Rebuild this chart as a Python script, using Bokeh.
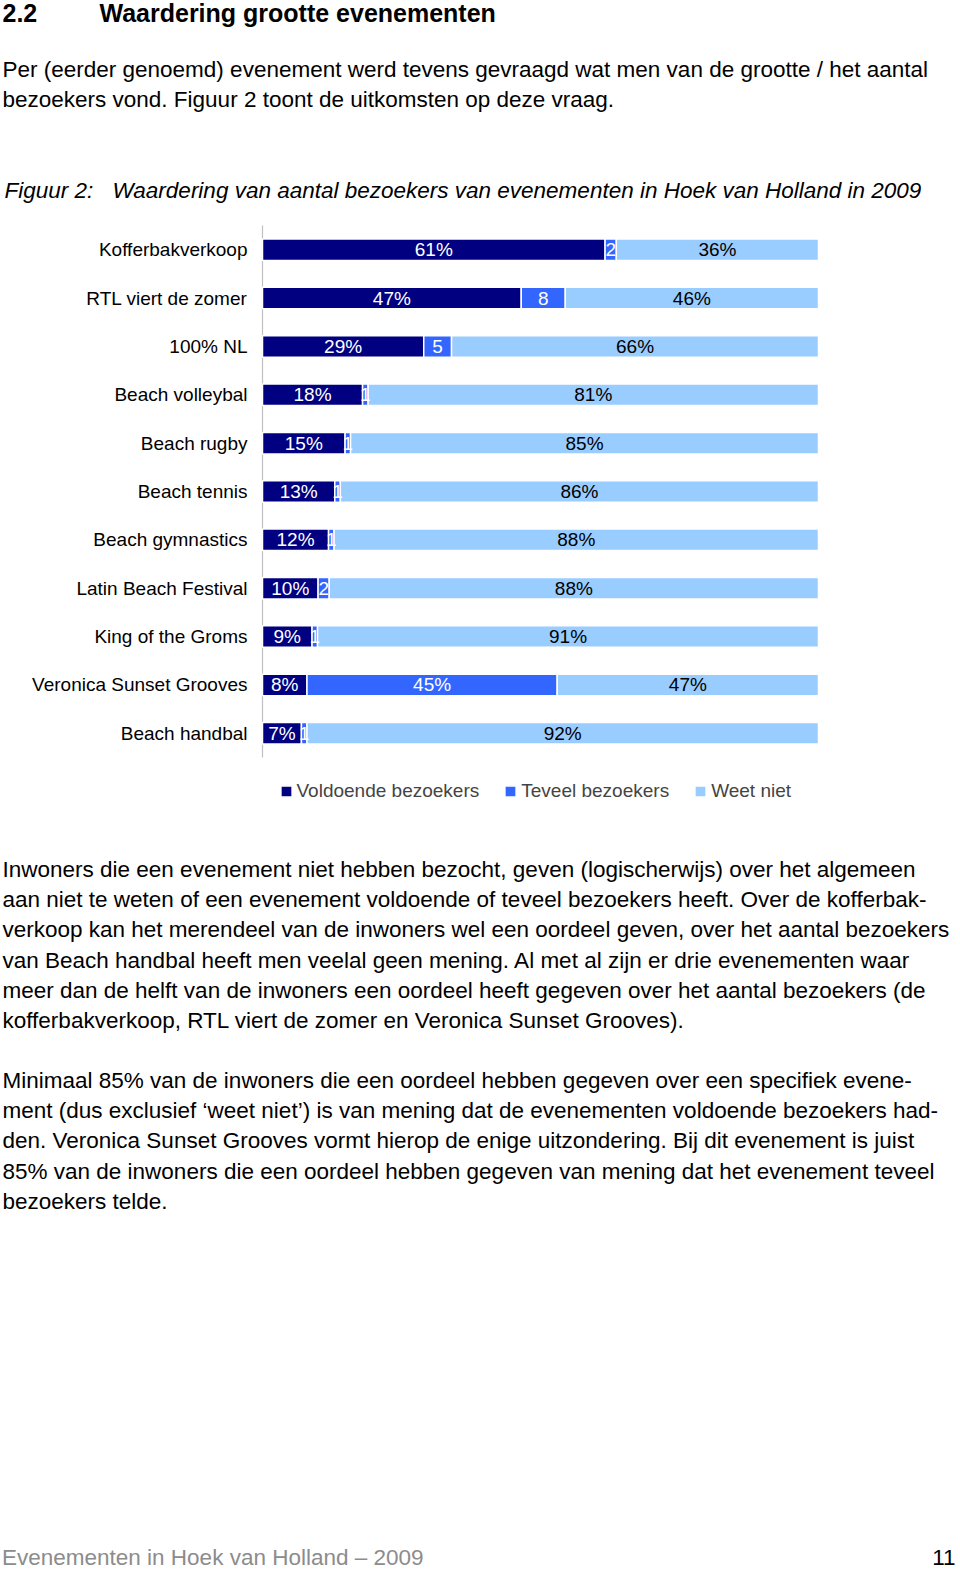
from bokeh.plotting import figure
from bokeh.models import ColumnDataSource, Label, Legend, LegendItem, Range1d
from bokeh.embed import file_html
from bokeh.resources import INLINE
from bokeh.core.properties import value

# ---------------- data ----------------
categories = ["Kofferbakverkoop", "RTL viert de zomer", "100% NL", "Beach volleybal",
              "Beach rugby", "Beach tennis", "Beach gymnastics", "Latin Beach Festival",
              "King of the Groms", "Veronica Sunset Grooves", "Beach handbal"]
voldoende = [61, 47, 29, 18, 15, 13, 12, 10, 9, 8, 7]
teveel = [2, 8, 5, 1, 1, 1, 1, 2, 1, 45, 1]
weet_niet = [36, 46, 66, 81, 85, 86, 88, 88, 91, 47, 92]
teveel_labels = ["2", "8", "5", "1", "1", "1", "1", "2", "1", "45%", "1"]
series = ["Voldoende bezoekers", "Teveel bezoekers", "Weet niet"]
colors = ["#000080", "#3366FF", "#99CCFF"]

heading_num = "2.2"
heading_text = "Waardering grootte evenementen"
para1 = ["Per (eerder genoemd) evenement werd tevens gevraagd wat men van de grootte / het aantal",
         "bezoekers vond. Figuur 2 toont de uitkomsten op deze vraag."]
caption_num = "Figuur 2:"
caption_text = "Waardering van aantal bezoekers van evenementen in Hoek van Holland in 2009"
para2 = ["Inwoners die een evenement niet hebben bezocht, geven (logischerwijs) over het algemeen",
         "aan niet te weten of een evenement voldoende of teveel bezoekers heeft. Over de kofferbak-",
         "verkoop kan het merendeel van de inwoners wel een oordeel geven, over het aantal bezoekers",
         "van Beach handbal heeft men veelal geen mening. Al met al zijn er drie evenementen waar",
         "meer dan de helft van de inwoners een oordeel heeft gegeven over het aantal bezoekers (de",
         "kofferbakverkoop, RTL viert de zomer en Veronica Sunset Grooves)."]
para3 = ["Minimaal 85% van de inwoners die een oordeel hebben gegeven over een specifiek evene-",
         "ment (dus exclusief \u2018weet niet\u2019) is van mening dat de evenementen voldoende bezoekers had-",
         "den. Veronica Sunset Grooves vormt hierop de enige uitzondering. Bij dit evenement is juist",
         "85% van de inwoners die een oordeel hebben gegeven van mening dat het evenement teveel",
         "bezoekers telde."]
footer_text = "Evenementen in Hoek van Holland \u2013 2009"
page_number = "11"

FONT = "Liberation Sans"
W, H = 960, 1570

# chart area inside the page figure (pixels from the figure's top-left)
CH_LEFT, CH_RIGHT = 262, 818
CH_TOP, CH_BOTTOM = 225, 757

px_per_pct = (CH_RIGHT - CH_LEFT) / 100.0
pct_start = -CH_LEFT / px_per_pct
pct_end = pct_start + W / px_per_pct

n = len(categories)
px_per_cat = (CH_BOTTOM - CH_TOP) / n
cat_top = -0.5 - CH_TOP / px_per_cat
cat_bottom = cat_top + H / px_per_cat

p = figure(width=W, height=H, x_range=Range1d(0, W), y_range=Range1d(0, H),
           output_backend="svg", toolbar_location=None,
           x_axis_location=None, y_axis_location=None, min_border=0)
p.outline_line_color = None
p.xgrid.visible = False
p.ygrid.visible = False
p.extra_x_ranges = {"pct": Range1d(pct_start, pct_end)}
p.extra_y_ranges = {"cat": Range1d(cat_bottom, cat_top)}


def add_label(page_x, page_y, text, size="22.5px", style="normal",
              color="#000000", align="left"):
    p.add_layout(Label(x=page_x, y=H - page_y, x_units="screen", y_units="screen",
                       text=text, text_font=FONT, text_font_size=size,
                       text_font_style=style, text_color=color,
                       text_baseline="middle", text_align=align))


# ---------------- page text ----------------
add_label(2, 12, heading_num, size="25px", style="bold")
add_label(99, 12, heading_text, size="25px", style="bold")
for i, line in enumerate(para1):
    add_label(2, 69 + 30 * i, line)
add_label(4, 190, caption_num, style="italic")
add_label(112, 190, caption_text, style="italic")
for i, line in enumerate(para2):
    add_label(2, 869 + 30.2 * i, line)
for i, line in enumerate(para3):
    add_label(2, 1080 + 30.2 * i, line)
add_label(1.5, 1557, footer_text, color="#8C8C8C")
add_label(955, 1557, page_number, align="right")

# ---------------- chart ----------------
tot = [a + b + c for a, b, c in zip(voldoende, teveel, weet_niet)]
v1 = [a / t * 100 for a, t in zip(voldoende, tot)]
v2 = [b / t * 100 for b, t in zip(teveel, tot)]
v3 = [c / t * 100 for c, t in zip(weet_niet, tot)]
src = ColumnDataSource(dict(
    cat=categories, yi=list(range(n)), v1=v1, v2=v2, v3=v3,
    c1=[a / 2 for a in v1],
    c2=[a + b / 2 for a, b in zip(v1, v2)],
    c3=[a + b + c / 2 for a, b, c in zip(v1, v2, v3)],
    t1=[f"{v}%" for v in voldoende],
    t2=teveel_labels,
    t3=[f"{v}%" for v in weet_niet],
))

# axis line
p.segment(x0=0, y0=-0.5, x1=0, y1=n - 0.5, line_color="#C0C0C0", line_width=1.2,
          x_range_name="pct", y_range_name="cat")

rs = p.hbar_stack(["v1", "v2", "v3"], y="yi", height=0.445, color=colors, source=src,
                  line_color="white", line_width=1.5,
                  x_range_name="pct", y_range_name="cat")

for xcol, tcol, tcolor in [("c1", "t1", "white"), ("c2", "t2", "white"), ("c3", "t3", "#000000")]:
    p.text(x=xcol, y="yi", text=tcol, source=src, text_color=tcolor,
           text_align="center", text_baseline="middle",
           text_font=value(FONT), text_font_size="19px",
           x_range_name="pct", y_range_name="cat")

# category labels, right-aligned left of the axis
p.text(x=-15 / px_per_pct, y="yi", text="cat", source=src, text_color="#000000",
       text_align="right", text_baseline="middle",
       text_font=value(FONT), text_font_size="19px",
       x_range_name="pct", y_range_name="cat")

legend = Legend(items=[LegendItem(label=s, renderers=[r]) for s, r in zip(series, rs)],
                orientation="horizontal", location=(278.5, H - 792 - 10),
                glyph_width=14, glyph_height=14, label_standoff=4, spacing=24,
                label_text_font=FONT, label_text_font_size="19px",
                border_line_color=None, background_fill_alpha=0,
                padding=0, margin=0, label_height=20)
p.add_layout(legend, "center")

open("out.html", "w").write(file_html(p, INLINE))
